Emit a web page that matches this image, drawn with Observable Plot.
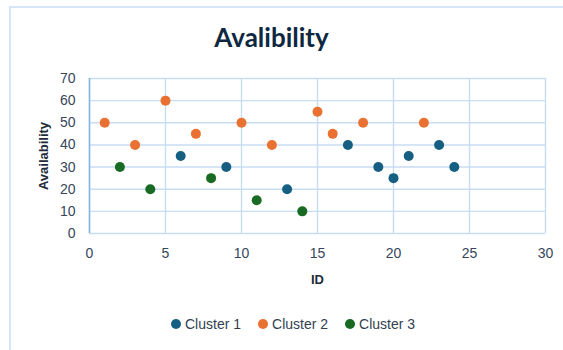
<!DOCTYPE html>
<html>
<head>
<meta charset="utf-8">
<script src="https://cdn.jsdelivr.net/npm/d3@7"></script>
<script src="https://cdn.jsdelivr.net/npm/@observablehq/plot@0.6"></script>
<style>
  body { margin: 0; background: #fff; }
  #chart { position: relative; width: 563px; height: 350px; overflow: hidden; font-family: "Liberation Sans", Arial, sans-serif; }
  #frame { position: absolute; left: 9px; top: 6px; width: 640px; height: 420px; border-left: 2px solid #d6e6f6; border-top: 2px solid #d6e6f6; }
  #title { position: absolute; left: 0; top: 22px; width: 543px; text-align: center; font-family: Lato, "Liberation Sans", sans-serif; font-weight: 700; font-size: 26px; color: #0e2841; line-height: 30px; }
  #plot { position: absolute; left: 0; top: 60px; }
  #legend { position: absolute; left: 171px; top: 316px; display: flex; gap: 17px; font-size: 14px; color: #333f50; }
  #legend span.item { display: flex; align-items: center; gap: 4px; }
  #legend span.sw { width: 10px; height: 10px; border-radius: 50%; display: inline-block; }
</style>
</head>
<body>
<div id="chart">
  <div id="frame"></div>
  <div id="title">Avalibility</div>
  <div id="plot"></div>
  <div id="legend"></div>
</div>
<script>
// Series: ID and availability per cluster
const clusters = ["Cluster 1", "Cluster 2", "Cluster 3"];
const colors = ["#156082", "#e97132", "#196b24"];

const cluster1Ids = [6, 9, 13, 17, 19, 20, 21, 23, 24];
const cluster1Vals = [35, 30, 20, 40, 30, 25, 35, 40, 30];

const cluster2Ids = [1, 3, 5, 7, 10, 12, 15, 16, 18, 22];
const cluster2Vals = [50, 40, 60, 45, 50, 40, 55, 45, 50, 50];

const cluster3Ids = [2, 4, 8, 11, 14];
const cluster3Vals = [30, 20, 25, 15, 10];

const xTicks = [0, 5, 10, 15, 20, 25, 30];
const yTicks = [0, 10, 20, 30, 40, 50, 60, 70];

const series = [
  [cluster1Ids, cluster1Vals],
  [cluster2Ids, cluster2Vals],
  [cluster3Ids, cluster3Vals]
];
const data = series.flatMap(([ids, vals], i) =>
  ids.map((id, j) => ({ id, value: vals[j], cluster: clusters[i] }))
);

const grid = "#c8ddf3";
const tickColor = "#37465a";

const chart = Plot.plot({
  width: 563,
  height: 250,
  marginTop: 18,
  marginBottom: 77,
  marginLeft: 89,
  marginRight: 18,
  style: { fontFamily: "'Liberation Sans', Arial, sans-serif", fontSize: "14px", color: tickColor, background: "transparent", overflow: "visible" },
  x: { domain: [0, 30] },
  y: { domain: [0, 70] },
  color: { domain: clusters, range: colors },
  marks: [
    Plot.gridX(xTicks, { stroke: grid, strokeOpacity: 1, strokeWidth: 1.4 }),
    Plot.gridY(yTicks, { stroke: grid, strokeOpacity: 1, strokeWidth: 1.4 }),
    Plot.ruleX([0], { stroke: "#8ab6e3", strokeWidth: 1.6 }),
    Plot.axisX(xTicks, { tickSize: 0, tickPadding: 15, label: null, fill: tickColor }),
    Plot.axisY(yTicks, { tickSize: 0, tickPadding: 14, label: null, fill: tickColor }),
    Plot.dot(data, { x: "id", y: "value", fill: "cluster", r: 5 }),
    Plot.text(["ID"], { frameAnchor: "bottom", dy: 50, fontWeight: "bold", fontSize: 13, fill: "#222b38" }),
    Plot.text(["Availability"], { frameAnchor: "left", textAnchor: "middle", dx: -46, rotate: -90, fontWeight: "bold", fontSize: 13, fill: "#222b38" })
  ]
});
document.getElementById("plot").append(chart);

const legend = document.getElementById("legend");
clusters.forEach((c, i) => {
  const item = document.createElement("span");
  item.className = "item";
  const sw = document.createElement("span");
  sw.className = "sw";
  sw.style.background = colors[i];
  item.append(sw, document.createTextNode(c));
  legend.append(item);
});
</script>
</body>
</html>
